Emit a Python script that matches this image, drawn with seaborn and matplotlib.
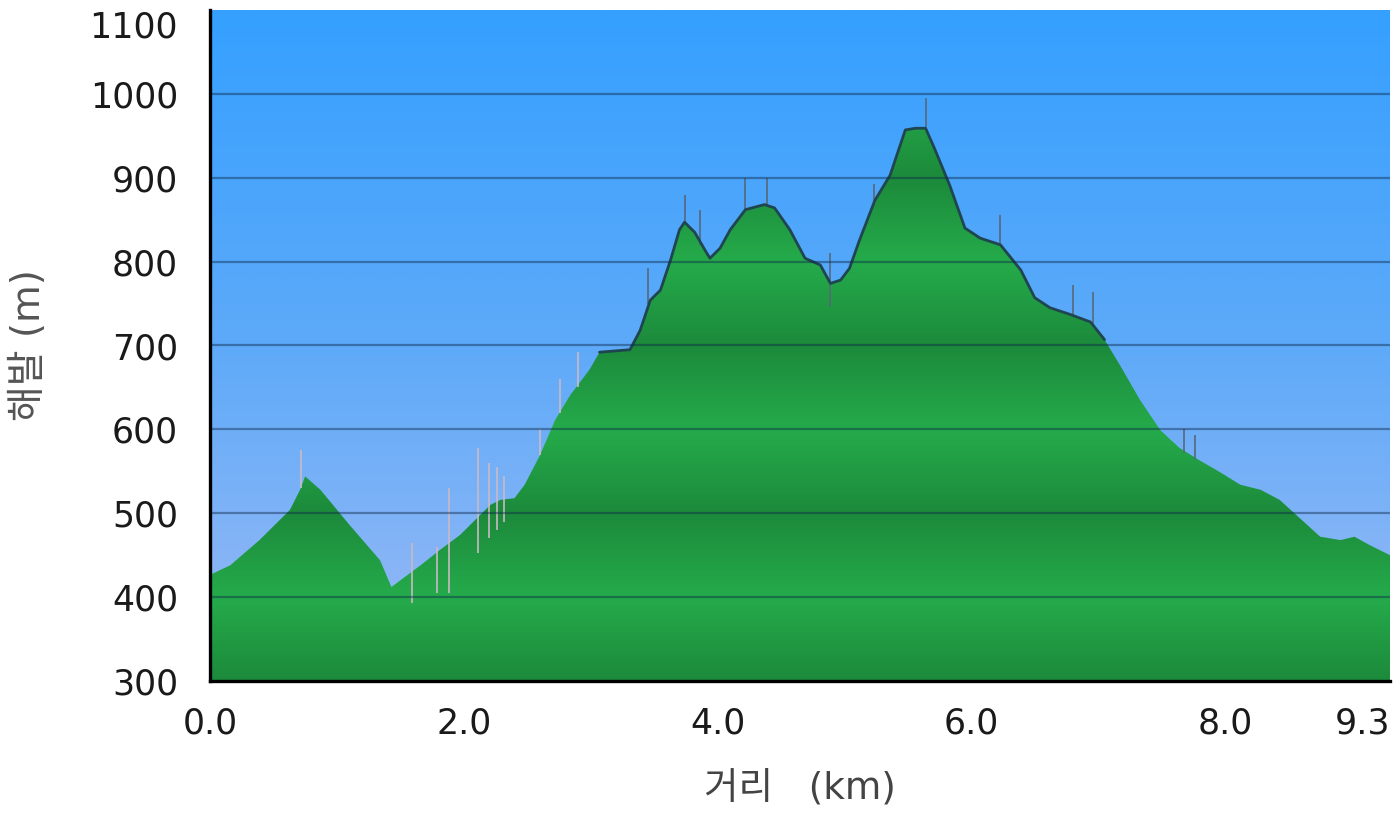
import numpy as np
import pandas as pd
import matplotlib
matplotlib.use("Agg")
import matplotlib.pyplot as plt
from matplotlib.colors import LinearSegmentedColormap
import seaborn as sns

# ---- data ----
dist_km = [0.00, 0.02, 0.16, 0.39, 0.63, 0.71, 0.75, 0.87, 1.10, 1.34, 1.43, 1.50, 1.66,
           1.81, 1.97, 2.09, 2.21, 2.29, 2.40, 2.48, 2.60, 2.72, 2.84, 2.99, 3.07,
           3.31, 3.39, 3.47, 3.55, 3.63, 3.70, 3.74, 3.82, 3.90, 3.94, 4.02, 4.10,
           4.22, 4.37, 4.45, 4.57, 4.69, 4.81, 4.89, 4.97, 5.04, 5.12, 5.24, 5.36,
           5.48, 5.56, 5.64, 5.71, 5.83, 5.95, 6.07, 6.23, 6.39, 6.50, 6.62, 6.78,
           6.94, 7.05, 7.17, 7.33, 7.49, 7.64, 7.80, 7.96, 8.12, 8.28, 8.43, 8.59,
           8.75, 8.91, 9.02, 9.14, 9.30]
elev_m = [423, 428, 438, 468, 504, 528, 544, 528, 486, 444, 412, 420, 438,
          456, 474, 492, 510, 516, 518, 534, 569, 611, 641, 671, 692,
          695, 718, 754, 766, 802, 838, 847, 835, 814, 804, 816, 838,
          862, 868, 864, 838, 804, 796, 774, 778, 792, 826, 873, 903,
          957, 959, 959, 935, 891, 840, 828, 820, 790, 757, 745, 737,
          728, 707, 677, 635, 599, 578, 563, 549, 534, 528, 516, 494,
          472, 468, 472, 462, 450]

spike_km = [0.72, 1.59, 1.79, 1.88, 2.11, 2.20, 2.26, 2.32, 2.60, 2.76, 2.90,
            3.45, 3.74, 3.86, 4.22, 4.39, 4.89, 5.23, 5.64, 6.23, 6.80, 6.96, 7.68, 7.76]
spike_low_m = [530, 393, 405, 405, 453, 470, 480, 490, 570, 620, 650,
               750, 845, 820, 862, 866, 746, 865, 960, 820, 735, 726, 572, 565]
spike_high_m = [575, 465, 460, 530, 578, 560, 555, 545, 600, 660, 692,
                792, 880, 862, 900, 900, 810, 893, 995, 856, 772, 764, 600, 593]

x_ticks = [0.0, 2.0, 4.0, 6.0, 8.0, 9.3]
x_tick_labels = ["0.0", "2.0", "4.0", "6.0", "8.0", "9.3"]
y_ticks = [300, 400, 500, 600, 700, 800, 900, 1000, 1100]

df = pd.DataFrame({"dist": dist_km, "elev": elev_m})

# ---- figure ----
sns.set_style("white")
plt.rcParams["font.family"] = ["DejaVu Sans", "Noto Sans CJK KR"]

fig = plt.figure(figsize=(14, 8.13), dpi=100)
ax = fig.add_axes([210 / 1400, 132 / 813, 1180 / 1400, 671 / 813])

x0, x1, y0, y1 = 0.0, 9.3, 300, 1100

# background blue gradient
bg = np.linspace(0, 1, 400).reshape(-1, 1)
bg_cmap = LinearSegmentedColormap.from_list("bg", ["#35a0ff", "#5eaaf9", "#9cbaf5"])
ax.imshow(bg, extent=[x0, x1, y0, y1], origin="upper", aspect="auto",
          cmap=bg_cmap, zorder=0, interpolation="bilinear")

# terrain fill (gradient clipped to area)
poly = ax.fill_between(df["dist"], df["elev"], y0, facecolor="none",
                       edgecolor="none", zorder=1)
yy = np.linspace(y1, y0, 800)
dark = 1 - np.abs(((yy - 400) % 200) - 100) / 100
green_cmap = LinearSegmentedColormap.from_list("gr", ["#25ab4b", "#1c8a3b"])
im = ax.imshow(dark.reshape(-1, 1), extent=[x0, x1, y0, y1], origin="upper",
               aspect="auto", cmap=green_cmap, vmin=0, vmax=1, zorder=2,
               interpolation="bilinear")
im.set_clip_path(poly.get_paths()[0], transform=ax.transData)

# spikes
for xs, lo, hi in zip(spike_km, spike_low_m, spike_high_m):
    col = "#cbb9c4" if xs < 3.0 else "#56687a"
    ax.vlines(xs, lo, hi, colors=col, linewidth=1.4, alpha=0.85, zorder=3)

# outline on the upper part
outline = df.copy()
outline["elev"] = np.where(outline["elev"] >= 690, outline["elev"], np.nan)
sns.lineplot(data=outline, x="dist", y="elev", ax=ax, color="#1f4650",
             linewidth=2.0, zorder=4, legend=False)

# grid lines
for v in y_ticks[1:-1]:
    ax.axhline(v, color="#0d2a4a", alpha=0.45, linewidth=1.6, zorder=5)

ax.set_xlim(x0, x1)
ax.set_ylim(y0, y1)
ax.set_xticks(x_ticks)
ax.set_xticklabels(x_tick_labels)
ax.set_yticks(y_ticks)

for s in ["top", "right"]:
    ax.spines[s].set_visible(False)
for s in ["left", "bottom"]:
    ax.spines[s].set_visible(True)
    ax.spines[s].set_color("black")
    ax.spines[s].set_linewidth(2.4)
    ax.spines[s].set_zorder(6)

ax.tick_params(axis="both", direction="out", length=11, width=2.2,
               color="black", labelsize=25, labelcolor="#1a1a1a")
ax.tick_params(axis="y", pad=12)
ax.tick_params(axis="x", pad=7)
last = ax.get_xticklabels()[-1]
last.set_horizontalalignment("right")
last.set_x(9.3)
top_lbl = ax.get_yticklabels()[-1]
top_lbl.set_verticalalignment("top")

ax.set_xlabel("거리   (km)", fontsize=27, color="#444444", labelpad=22)
ax.set_ylabel("해발 (m)", fontsize=28, color="#555555", labelpad=30)

fig.savefig("out.png", dpi=100)
